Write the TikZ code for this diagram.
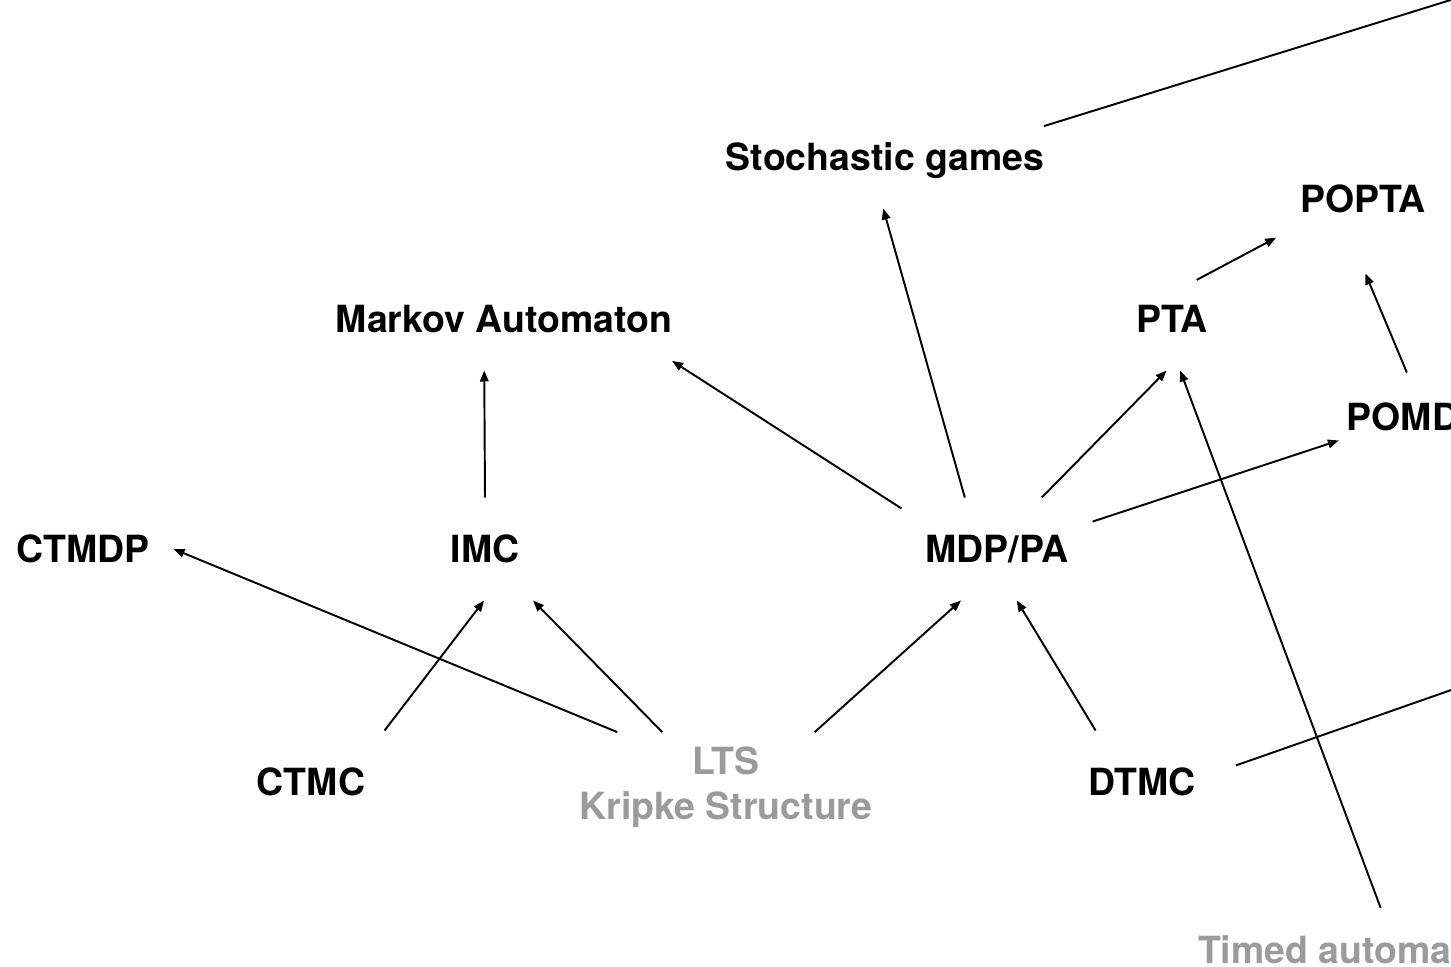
\documentclass[tikz,border=0pt]{standalone}
\usepackage{fontspec}
\setmainfont{TeX Gyre Heros}
\usetikzlibrary{arrows.meta}
\definecolor{faded}{RGB}{155,155,155}

\begin{document}
\begin{tikzpicture}[x=0.02cm, y=-0.02cm,
  model/.style={font=\fontsize{21.3pt}{25.6pt}\selectfont\bfseries, inner xsep=0.48cm,
                inner ysep=0.76cm, outer sep=0pt, text height=0.54cm, text depth=0pt},
  basis/.style={font=\fontsize{21.3pt}{25.6pt}\selectfont\bfseries, text=faded, align=center,
                inner xsep=0.48cm, inner ysep=0.3cm, outer sep=0pt},
  link/.style={-{Triangle[length=0.22cm,width=0.17cm]}, line width=1.1pt},
  plain/.style={line width=1.1pt},
]
\useasboundingbox (0,0) rectangle (1451,967);
\clip (0,0) rectangle (1451,967);

% top row
\node[model, inner xsep=0pt] (sg) at (885,157) {Stochastic games};
\node[model] (popta) at (1363,199) {POPTA};
\node[model, inner xsep=0pt] (ma) at (504,319) {Markov Automaton};
\node[model] (pta) at (1172,319) {PTA};
\node[model, inner xsep=0.16cm, inner ysep=0.62cm] (pomdp) at (1415.5,417) {POMDP};

% middle row
\node[model] (ctmdp) at (83,549) {CTMDP};
\node[model] (imc) at (485,549) {IMC};
\node[model] (mdp) at (997,549) {MDP/PA};

% bottom row
\node[model] (ctmc) at (311,782) {CTMC};
\node[basis] (lts) at (726,787.5) {LTS\\Kripke Structure};
\node[model, inner xsep=0.8cm] (dtmc) at (1142,782) {DTMC};
\node[model, text=faded, inner ysep=0.57cm] (ta) at (1341.5,950) {Timed automata};

% ends outside the frame
\coordinate (sgout) at (1500,-15.3);
\coordinate (dtmcout) at (1500,672.9);

% links
\draw[link] (lts.153) -- (ctmdp.east);
\draw[link] (ctmc.35) -- (imc.-91);
\draw[link] (lts.139) -- (imc.-47);
\draw[link] (lts.32) -- (mdp.-125);
\draw[link] (dtmc.132) -- (mdp.-69);
\draw[link] (imc.north) -- (ma.-111);
\draw[link] (mdp.157) -- (ma.-14);
\draw[link] (mdp.122) -- (sg.-92);
\draw[link] (mdp.49) -- (pta.-96);
\draw[link] (mdp.16) -- (pomdp.197);
\draw[link, shorten <=-0.53cm] (pta.47) -- (popta.204);
\draw[link, shorten >=0.5cm] (pomdp.101) -- (popta.-98);
\draw[link] (ta.47.5) -- (pta.-81);
\draw[plain] (sg.11) -- (sgout);
\draw[plain] (dtmc.10) -- (dtmcout);
\end{tikzpicture}
\end{document}
